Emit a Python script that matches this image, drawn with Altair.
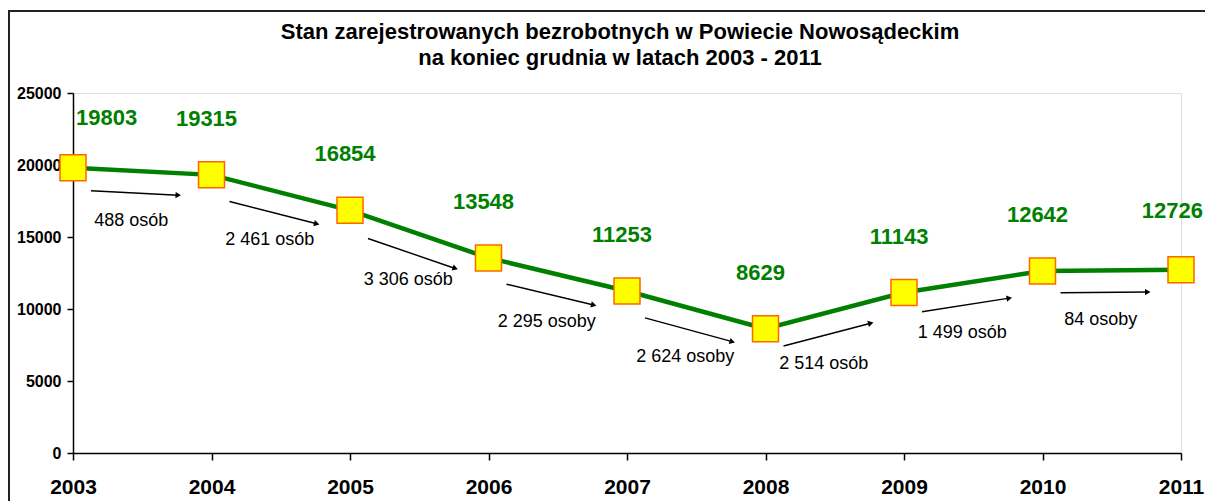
import math
import pandas as pd
import altair as alt

# ---- data ----
years = [2003, 2004, 2005, 2006, 2007, 2008, 2009, 2010, 2011]
values = [19803, 19315, 16854, 13548, 11253, 8629, 11143, 12642, 12726]
change_labels = ["488 osób", "2 461 osób", "3 306 osób", "2 295 osoby",
                 "2 624 osoby", "2 514 osób", "1 499 osób", "84 osoby"]
y_ticks = [0, 5000, 10000, 15000, 20000, 25000]
title_lines = ["Stan zarejestrowanych bezrobotnych w Powiecie Nowosądeckim",
               "na koniec grudnia w latach 2003 - 2011"]

# ---- layout ----
W, H = 1108, 360
PAD_L, PAD_T, PAD_R, PAD_B = 65, 85, 24, 48
YMAX = 25000
px_year = W / (years[-1] - years[0])
px_unit = H / YMAX
F0, F1, FL = 0.13, 0.76, 0.42      # arrow start / end / label fraction along each segment
ARROW_OFF = 22 / px_unit          # arrow shift below the line (data units)
LABEL_OFF = 50 / px_unit          # label shift below the line (data units)

df = pd.DataFrame({"year": years, "value": values})

rows = []
for i, lab in enumerate(change_labels):
    y0v, y1v = values[i], values[i + 1]
    x0 = years[i] + F0
    x1 = years[i] + F1
    a0 = y0v + (y1v - y0v) * F0 - ARROW_OFF
    a1 = y0v + (y1v - y0v) * F1 - ARROW_OFF
    dxp = (x1 - x0) * px_year
    dyp = -(a1 - a0) * px_unit
    ang = math.degrees(math.atan2(dyp, dxp)) % 360
    rows.append({
        "x0": x0, "x1": x1, "y0": a0, "y1": a1, "ang": ang,
        "lx": years[i] + FL,
        "ly": y0v + (y1v - y0v) * FL - LABEL_OFF,
        "label": lab,
    })
arr = pd.DataFrame(rows)

FONT = "Liberation Sans, Arial, sans-serif"
GREEN = "#008000"

xscale = alt.Scale(domain=[years[0], years[-1]], nice=False, zero=False)
yscale = alt.Scale(domain=[0, YMAX], nice=False)
xaxis = alt.Axis(values=years, format="d", labelFont=FONT, labelFontSize=21,
                 labelFontWeight="bold", labelColor="black", tickSize=7,
                 tickColor="black", domainColor="black", domainWidth=1.5,
                 tickWidth=1.5, grid=False, title=None, labelPadding=16,
                 labelFlush=False, labelOverlap=False)
yaxis = alt.Axis(values=y_ticks, format="d", labelFont=FONT, labelFontSize=16,
                 labelFontWeight="bold", labelColor="black", tickSize=6,
                 tickColor="black", domainColor="black", domainWidth=1.5,
                 tickWidth=1.5, grid=False, title=None, labelPadding=6)

X = alt.X("year:Q", scale=xscale, axis=xaxis)
Y = alt.Y("value:Q", scale=yscale, axis=yaxis)

one = pd.DataFrame({"a": [0]})
# outer chart frame (left and top edges; the others fall outside the picture)
frame_left = alt.Chart(one).mark_rect(color="#222222", opacity=1).encode(
    x=alt.value(-65), x2=alt.value(-63), y=alt.value(-83), y2=alt.value(H + PAD_B))
frame_top = alt.Chart(one).mark_rect(color="#222222", opacity=1).encode(
    x=alt.value(-65), x2=alt.value(W + PAD_R), y=alt.value(-83), y2=alt.value(-81))

title1 = alt.Chart(one).mark_text(
    text=title_lines[0], font=FONT, fontSize=22, fontWeight="bold", color="black",
    align="center", baseline="alphabetic"
).encode(x=alt.value(547), y=alt.value(-54))
title2 = alt.Chart(one).mark_text(
    text=title_lines[1], font=FONT, fontSize=22, fontWeight="bold", color="black",
    align="center", baseline="alphabetic"
).encode(x=alt.value(547), y=alt.value(-28))

line = alt.Chart(df).mark_line(color=GREEN, strokeWidth=4.5).encode(x=X, y=Y)

pts = alt.Chart(df).mark_square(
    size=676, fill="#FFFF00", stroke="#FF6600", strokeWidth=1.5, opacity=1, filled=True
).encode(x=alt.X("year:Q", scale=xscale), y=alt.Y("value:Q", scale=yscale))

vlab_first = alt.Chart(df).transform_filter(alt.datum.year == years[0]).mark_text(
    font=FONT, fontSize=22, fontWeight="bold", color=GREEN, align="left",
    baseline="middle", dx=3, dy=-50
).encode(x=alt.X("year:Q", scale=xscale), y=alt.Y("value:Q", scale=yscale), text="value:Q")

vlab_mid = alt.Chart(df).transform_filter(
    (alt.datum.year > years[0]) & (alt.datum.year < years[-1])
).mark_text(
    font=FONT, fontSize=22, fontWeight="bold", color=GREEN, align="center",
    baseline="middle", dx=-5, dy=-56
).encode(x=alt.X("year:Q", scale=xscale), y=alt.Y("value:Q", scale=yscale), text="value:Q")

vlab_last = alt.Chart(df).transform_filter(alt.datum.year == years[-1]).mark_text(
    font=FONT, fontSize=22, fontWeight="bold", color=GREEN, align="right",
    baseline="middle", dx=22, dy=-59
).encode(x=alt.X("year:Q", scale=xscale), y=alt.Y("value:Q", scale=yscale), text="value:Q")

rules = alt.Chart(arr).mark_rule(color="black", strokeWidth=1.4).encode(
    x=alt.X("x0:Q", scale=xscale), x2="x1:Q",
    y=alt.Y("y0:Q", scale=yscale), y2="y1:Q")

heads = alt.Chart(arr).mark_point(
    shape="triangle-right", filled=True, color="black", size=40, opacity=1
).encode(x=alt.X("x1:Q", scale=xscale), y=alt.Y("y1:Q", scale=yscale),
         angle=alt.Angle("ang:Q", scale=None))

clabs = alt.Chart(arr).mark_text(
    font=FONT, fontSize=18, color="black", align="center", baseline="middle"
).encode(x=alt.X("lx:Q", scale=xscale), y=alt.Y("ly:Q", scale=yscale), text="label:N")

chart = alt.layer(
    line, frame_left, frame_top, title1, title2, rules, heads, clabs, pts,
    vlab_first, vlab_mid, vlab_last
).properties(
    width=W, height=H,
    padding={"left": PAD_L, "top": PAD_T, "right": PAD_R, "bottom": PAD_B},
    autosize=alt.AutoSizeParams(type="none"),
).configure_view(strokeWidth=0).configure(background="white")

chart.save("out.html", embed_options={"renderer": "svg", "actions": False})
